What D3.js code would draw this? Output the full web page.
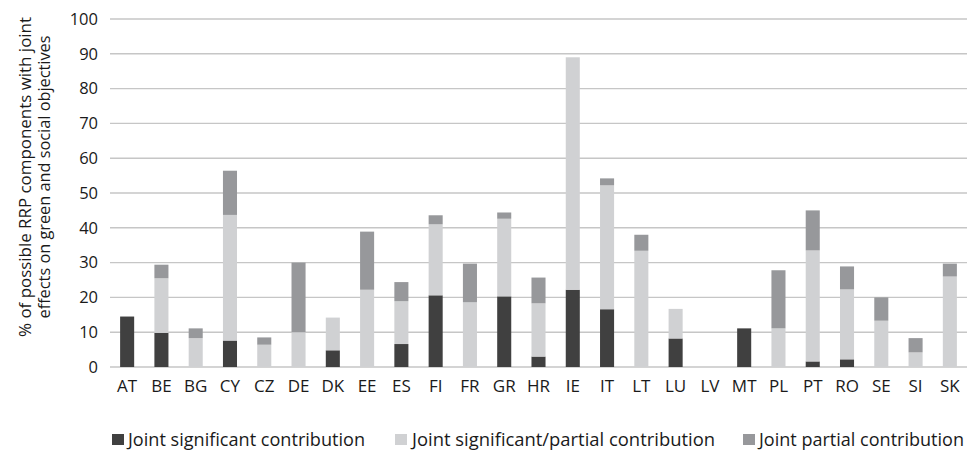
<!DOCTYPE html>
<html><head><meta charset="utf-8">
<script src="https://cdn.jsdelivr.net/npm/d3@7"></script>
<style>
html,body{margin:0;padding:0;background:#fff;}
text{font-family:"Open Sans",sans-serif;fill:#1a1a1a;}
</style></head>
<body>
<svg id="chart" width="973" height="451"></svg>
<script>
const categories = ["AT","BE","BG","CY","CZ","DE","DK","EE","ES","FI","FR","GR","HR","IE","IT","LT","LU","LV","MT","PL","PT","RO","SE","SI","SK"];
const significant = [14.5,9.8,0,7.6,0,0,4.8,0,6.6,20.6,0,20.3,3.0,22.2,16.6,0,8.2,0,11.1,0,1.6,2.2,0,0,0];
const sigPartial = [0,15.7,8.3,36.1,6.4,10.0,9.4,22.2,12.3,20.4,18.6,22.3,15.3,66.8,35.6,33.4,8.5,0,0,11.1,31.9,20.1,13.3,4.2,26.0];
const partial = [0,3.9,2.8,12.7,2.1,20.0,0,16.7,5.5,2.6,11.1,1.8,7.4,0,2.0,4.6,0,0,0,16.7,11.5,6.6,6.7,4.1,3.7];
const seriesNames = ["Joint significant contribution","Joint significant/partial contribution","Joint partial contribution"];
const colors = ["#404040","#d0d1d3","#97989b"];
const yTicks = [0,10,20,30,40,50,60,70,80,90,100];
const yTitle = ["% of possible RRP components with joint","effects on green and social objectives"];

const svg = d3.select("#chart");
const margin = {left:110, right:6, top:19, bottom:84};
const W = 973, H = 451;
const x = d3.scaleBand().domain(categories).range([margin.left, W - margin.right]).paddingInner(0.59).paddingOuter(0.295);
const y = d3.scaleLinear().domain([0,100]).range([H - margin.bottom, margin.top]);

// gridlines
svg.append("g").selectAll("line").data(yTicks).join("line")
  .attr("x1", margin.left).attr("x2", W - margin.right)
  .attr("y1", d => y(d)).attr("y2", d => y(d))
  .attr("stroke", "#c6c6c6").attr("stroke-width", 1.4);

// y axis labels
const yAxis = d3.axisLeft(y).tickValues(yTicks).tickSize(0).tickPadding(12);
const gy = svg.append("g").attr("transform", `translate(${margin.left},0)`).call(yAxis);
gy.select(".domain").remove();
gy.selectAll("text").attr("font-size", 16.5).attr("font-family", '"Open Sans",sans-serif').attr("fill", "#1a1a1a");

// stacked data
const rows = categories.map((c,i) => ({cat:c, s0:significant[i], s1:sigPartial[i], s2:partial[i]}));
const stack = d3.stack().keys(["s0","s1","s2"]);
const layers = stack(rows);
svg.append("g").selectAll("g").data(layers).join("g")
  .attr("fill", (d,i) => colors[i])
  .selectAll("rect").data(d => d.filter(v => v[1] - v[0] > 0)).join("rect")
  .attr("x", d => x(d.data.cat))
  .attr("width", x.bandwidth())
  .attr("y", d => y(d[1]))
  .attr("height", d => y(d[0]) - y(d[1]));

// x axis
const xAxis = d3.axisBottom(x).tickSize(0).tickPadding(13);
const gx = svg.append("g").attr("transform", `translate(0,${y(0)})`).call(xAxis);
gx.select(".domain").remove();
gx.selectAll("text").attr("font-size", 17).attr("font-family", '"Open Sans",sans-serif').attr("fill", "#1a1a1a");

// y title
const titleLen = [320, 283];
const t = svg.append("text").attr("transform", `translate(0,177) rotate(-90)`).attr("text-anchor","middle").attr("font-size", 16.5);
t.selectAll("tspan").data(yTitle).join("tspan").attr("x", 0).attr("y", (d,i) => 30.5 + i*19.5)
  .attr("textLength", (d,i) => titleLen[i]).attr("lengthAdjust", "spacingAndGlyphs").text(d => d);

// legend
const legX = [112, 395, 743];
const legLen = [237, 303, 205];
const lg = svg.append("g").selectAll("g").data(seriesNames).join("g")
  .attr("transform", (d,i) => `translate(${legX[i]},434)`);
lg.append("rect").attr("width", 12).attr("height", 11).attr("fill", (d,i) => colors[i]);
lg.append("text").attr("x", (d,i) => i === 0 ? 16 : (i === 1 ? 17 : 16)).attr("y", 12).attr("font-size", 17.5)
  .attr("textLength", (d,i) => legLen[i]).attr("lengthAdjust", "spacingAndGlyphs").text(d => d);
</script>
</body></html>
